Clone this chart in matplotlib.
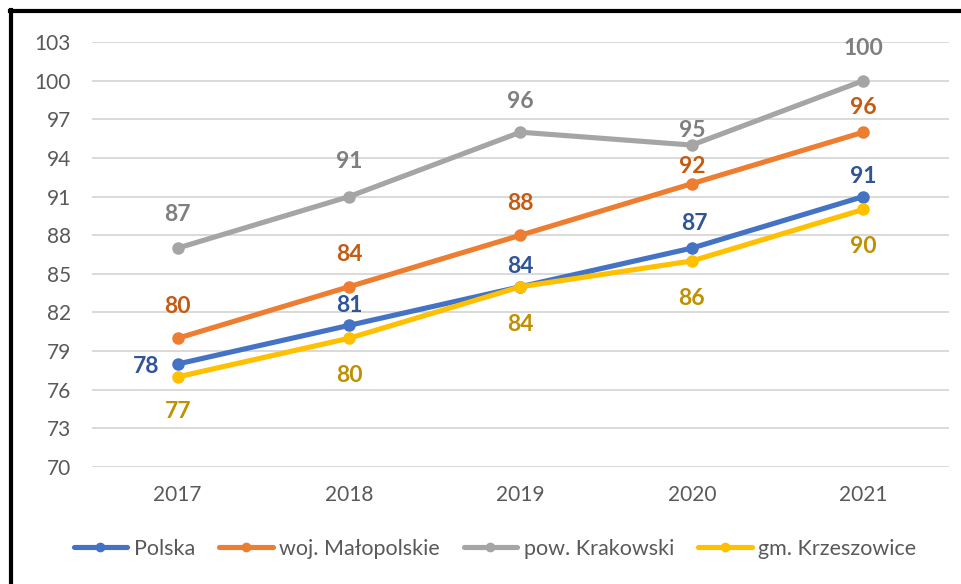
import matplotlib
matplotlib.use("Agg")
import matplotlib.pyplot as plt
from matplotlib.lines import Line2D

plt.rcParams["font.family"] = ["Lato", "DejaVu Sans"]

YEARS = ["2017", "2018", "2019", "2020", "2021"]

POLSKA = [78, 81, 84, 87, 91]
MALOPOLSKIE = [80, 84, 88, 92, 96]
KRAKOWSKI = [87, 91, 96, 95, 100]
KRZESZOWICE = [77, 80, 84, 86, 90]

SERIES = [
    ("Polska", POLSKA),
    ("woj. Małopolskie", MALOPOLSKIE),
    ("pow. Krakowski", KRAKOWSKI),
    ("gm. Krzeszowice", KRZESZOWICE),
]

LINE_COLORS = ["#4472C4", "#ED7D31", "#A5A5A5", "#FFC000"]
LABEL_COLORS = ["#2F5597", "#C55A11", "#7F7F7F", "#BF9000"]

# label offsets in pixels (dx, dy), dy positive = up
LABEL_OFFSETS = [
    [(-32, -2), (0, 20), (0, 20), (2, 25), (0, 20)],
    [(0, 32), (0, 32), (0, 32), (0, 17), (0, 25)],
    [(0, 34), (0, 35), (0, 31), (0, 15), (0, 32)],
    [(0, -35), (0, -37), (0, -38), (0, -38), (0, -37)],
]

DPI = 100
fig = plt.figure(figsize=(9.61, 5.84), dpi=DPI)
ax = fig.add_axes([0.0957, 0.2003, 0.8918, 0.7277])

x = list(range(len(YEARS)))
px = 72 / DPI
for (name, vals), col, lcol, offs in zip(SERIES, LINE_COLORS, LABEL_COLORS, LABEL_OFFSETS):
    ax.plot(x, vals, color=col, lw=3.7, marker="o", ms=8, label=name,
            solid_capstyle="round", zorder=3)
    for xi, v, (dx, dy) in zip(x, vals, offs):
        ax.annotate(str(v), (xi, v), xytext=(dx * px, dy * px), textcoords="offset points",
                    ha="center", va="center", color=lcol, fontsize=16.5,
                    fontweight="bold", zorder=4)

ax.set_xlim(-0.5, len(YEARS) - 0.5)
ax.set_ylim(70, 103)
ax.set_yticks(range(70, 104, 3))
ax.set_xticks(x)
ax.set_xticklabels(YEARS)
ax.grid(axis="y", color="#D9D9D9", lw=1.4)
ax.set_axisbelow(True)
for s in ax.spines.values():
    s.set_visible(False)
ax.tick_params(length=0, labelsize=15, labelcolor="#595959")
ax.tick_params(axis="y", pad=15)
ax.tick_params(axis="x", pad=13)

fig.legend(loc="center", bbox_to_anchor=(0.515, 0.06), ncol=4, frameon=False,
           fontsize=15.5, handlelength=2.5, handletextpad=0.3, columnspacing=1.1,
           labelcolor="#595959", markerscale=0.75)

# black frame on the top and left edge
fig.add_artist(Line2D([10 / 961, 1], [1 - 11 / 584] * 2, color="black", lw=3,
                      transform=fig.transFigure))
fig.add_artist(Line2D([11 / 961] * 2, [0, 1 - 10 / 584], color="black", lw=3,
                      transform=fig.transFigure))

fig.savefig("out.png", dpi=DPI, facecolor="white")
